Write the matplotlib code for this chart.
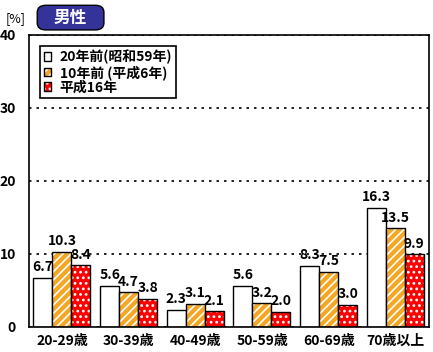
import numpy as np
import matplotlib
matplotlib.use('Agg')
import matplotlib.pyplot as plt
from matplotlib.patches import Patch, FancyBboxPatch
from matplotlib.legend_handler import HandlerTuple

plt.rcParams['font.family'] = ['Noto Sans CJK JP', 'DejaVu Sans']
plt.rcParams['hatch.linewidth'] = 1.2

categories = ['20-29歳', '30-39歳', '40-49歳', '50-59歳', '60-69歳', '70歳以上']
series_names = ['20年前(昭和59年)', '10年前 (平成6年)', '平成16年']
v_s59 = [6.7, 5.6, 2.3, 5.6, 8.3, 16.3]
v_h6 = [10.3, 4.7, 3.1, 3.2, 7.5, 13.5]
v_h16 = [8.4, 3.8, 2.1, 2.0, 3.0, 9.9]
yticks = [0, 10, 20, 30, 40]

fig = plt.figure(figsize=(4.33, 3.52), dpi=100)
ax = fig.add_axes([0.066, 0.072, 0.924, 0.829])

x = np.arange(len(categories))
w = 0.285
styles = [('white', None), ('#f5a623', '////'), ('#ff0000', '...')]
for i, (vals, (fc, hatch)) in enumerate(zip([v_s59, v_h6, v_h16], styles)):
    pos = x + (i - 1) * w
    if hatch:
        ax.bar(pos, vals, w, color=fc, hatch=hatch, edgecolor='white', linewidth=0, zorder=2)
        ax.bar(pos, vals, w, fill=False, edgecolor='black', linewidth=1.0, zorder=3)
    else:
        ax.bar(pos, vals, w, color=fc, edgecolor='black', linewidth=1.0, zorder=2)
    for p, v in zip(pos, vals):
        ax.text(p, v + 0.5, f'{v:.1f}', ha='center', va='bottom', fontsize=10,
                fontweight='bold', zorder=4)

ax.set_xlim(-0.5, len(categories) - 0.5)
ax.set_ylim(0, 40)
ax.set_yticks(yticks)
ax.set_yticklabels([str(t) for t in yticks], fontsize=10, fontweight='bold')
ax.set_xticks(x)
ax.set_xticklabels(categories, fontsize=10, fontweight='bold')
ax.tick_params(length=0, pad=5)
ax.tick_params(axis='y', pad=9)
for s in ax.spines.values():
    s.set_linewidth(1.2)
ax.yaxis.grid(True, linestyle=(0, (1.5, 3)), color='black', linewidth=1.2, zorder=0)
ax.set_axisbelow(True)

# legend handles: fill + white hatch underneath, black outline on top
handles = []
for fc, hatch in styles:
    under = Patch(facecolor=fc, edgecolor='white', hatch=hatch, linewidth=0)
    over = Patch(fill=False, edgecolor='black', linewidth=1.0)
    handles.append((under, over))
leg = ax.legend(handles, series_names, loc='upper left', bbox_to_anchor=(0.012, 0.985),
                handler_map={tuple: HandlerTuple(ndivide=1, pad=0)},
                fancybox=False, edgecolor='black', framealpha=1, handlelength=0.55,
                handleheight=0.55, handletextpad=0.6, borderpad=0.25, labelspacing=0.05,
                prop={'size': 10, 'weight': 'bold'})
leg.get_frame().set_linewidth(1.2)

fig.text(0.012, 0.948, '[%]', fontsize=9, ha='left', va='center')
box = FancyBboxPatch((0.086, 0.915), 0.154, 0.07, boxstyle='round,pad=0,rounding_size=0.02',
                     transform=fig.transFigure, facecolor='#33339a', edgecolor='black',
                     linewidth=1.0)
fig.patches.append(box)
fig.text(0.163, 0.949, '男性', fontsize=12, fontweight='bold', color='white',
         ha='center', va='center')

fig.savefig('out.png', dpi=100)
